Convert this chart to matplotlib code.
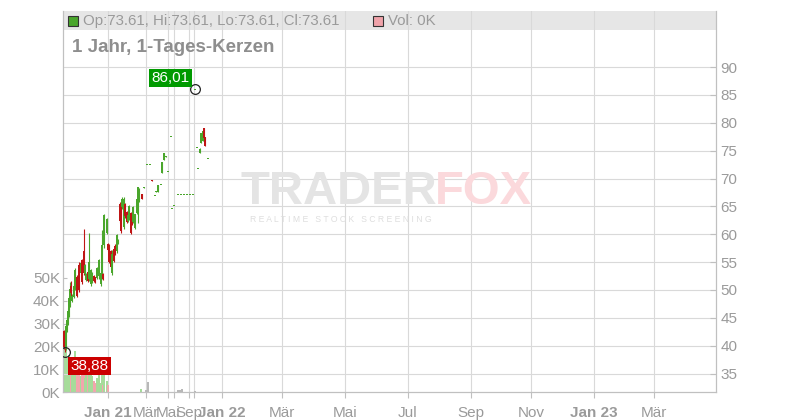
import matplotlib
matplotlib.use('Agg')
import matplotlib.pyplot as plt
from matplotlib.patches import Rectangle

plt.rcParams['font.family'] = ['Liberation Sans', 'DejaVu Sans']

# Ordinal slot of each daily candle (gaps = days without trades)
slots = [64, 65, 66, 67, 68, 69, 70, 71, 72, 74, 75, 77, 79, 81, 82, 84, 85, 86, 88, 89,
         91, 92, 94, 95, 97, 99, 101, 102, 103, 104, 107, 108, 109, 111, 112, 114, 115, 117, 118, 120,
         121, 122, 124, 125, 127, 128, 129, 131, 132, 133, 135, 137, 138, 139, 142, 144, 147, 150, 152, 155,
         156, 158, 161, 162, 164, 166, 168, 171, 172, 174, 178, 181, 184, 187, 190, 193, 195, 197, 198, 200,
         201, 203, 204, 205, 208]
opens = [42.7, 40.2, 39.4, 43.0, 44.2, 45.6, 47.6, 50.8, 48.0, 48.8, 50.2, 52.3, 54.5, 53.0, 55.4, 57.0, 52.8, 51.8, 53.3, 52.0,
         51.0, 51.5, 52.5, 52.3, 52.2, 52.5, 51.0, 52.3, 52.8, 58.0, 60.2, 58.3, 58.0, 57.0, 53.0, 57.4, 57.9, 57.0, 58.5, 65.5,
         64.5, 64.8, 61.3, 65.4, 64.0, 62.4, 62.8, 63.8, 63.0, 62.2, 61.2, 63.8, 64.0, 66.0, 67.3, 68.3, 72.5, 72.5, 69.8, 67.0,
         67.6, 67.5, 69.0, 71.0, 73.4, 73.8, 71.3, 77.6, 64.6, 65.2, 67.2, 67.2, 67.2, 67.2, 67.2, 67.2, 86.01, 75.6, 71.8, 74.5,
         76.3, 76.8, 79.1, 77.4, 73.61]
highs = [42.9, 41.0, 44.0, 45.2, 46.8, 49.0, 51.5, 51.7, 49.2, 51.0, 54.0, 52.6, 55.0, 55.0, 55.6, 61.0, 54.7, 53.0, 53.5, 60.3,
         53.8, 53.2, 52.6, 52.4, 54.2, 55.6, 53.2, 60.7, 53.0, 63.7, 63.0, 58.4, 58.2, 57.1, 57.1, 57.5, 58.2, 60.0, 59.2, 65.7,
         65.0, 66.6, 66.6, 65.6, 64.1, 63.8, 65.2, 64.0, 63.2, 65.0, 63.7, 66.4, 68.5, 68.3, 67.3, 68.5, 72.5, 72.5, 69.8, 67.0,
         67.8, 68.8, 69.0, 72.9, 74.5, 74.0, 71.3, 77.6, 64.6, 65.2, 67.2, 67.2, 67.2, 67.2, 67.2, 67.2, 86.01, 75.6, 71.8, 75.5,
         78.2, 78.6, 79.1, 77.4, 73.61]
lows = [39.5, 38.88, 39.2, 42.5, 43.8, 45.2, 47.0, 49.0, 47.8, 48.5, 50.0, 48.7, 49.6, 52.8, 51.0, 52.6, 52.6, 51.7, 51.4, 51.7,
        50.8, 51.2, 51.4, 51.3, 52.0, 52.0, 50.8, 52.0, 51.8, 57.6, 60.0, 57.0, 54.8, 54.0, 52.6, 55.0, 56.2, 56.7, 58.3, 62.0,
        60.3, 64.6, 61.0, 63.0, 62.0, 62.2, 62.6, 60.0, 61.7, 62.0, 61.0, 63.7, 62.0, 65.8, 66.4, 68.3, 72.5, 72.5, 69.6, 67.0,
        67.6, 67.5, 69.0, 71.0, 73.4, 73.8, 71.3, 77.6, 64.6, 65.2, 67.2, 67.2, 67.2, 67.2, 67.2, 67.2, 86.01, 75.6, 71.8, 74.5,
        76.3, 76.8, 77.2, 75.8, 73.61]
closes = [39.8, 39.4, 43.5, 44.6, 46.2, 48.5, 50.2, 49.5, 49.0, 50.8, 53.5, 49.0, 50.0, 54.8, 51.5, 53.0, 54.5, 52.9, 51.6, 55.0,
          53.6, 53.0, 51.6, 51.5, 54.0, 55.4, 53.0, 58.0, 51.9, 63.5, 62.8, 57.1, 55.0, 54.2, 56.5, 55.2, 56.3, 59.8, 59.0, 62.3,
          60.5, 66.4, 66.4, 63.2, 62.2, 63.5, 65.0, 60.3, 61.9, 64.8, 63.6, 66.3, 68.4, 68.0, 66.4, 68.5, 72.5, 72.5, 69.6, 67.0,
          67.8, 68.8, 69.0, 72.9, 74.5, 74.0, 71.3, 77.6, 64.6, 65.2, 67.2, 67.2, 67.2, 67.2, 67.2, 67.2, 86.01, 75.6, 71.8, 75.3,
          78.2, 78.6, 77.2, 75.8, 73.61]

# Volume (thousands)
vol_slots = [63, 64, 65, 66, 67, 68, 69, 70, 71, 72, 74, 75, 77, 79, 81, 82, 84, 85, 86, 88,
             89, 91, 92, 94, 95, 97, 99, 101, 102, 103, 104, 107, 108, 141, 146, 148, 178, 180, 182, 195]
vol_k = [2, 4, 20, 21, 15, 12, 16, 14, 8, 10, 12, 18, 9, 11, 7, 10, 14, 6, 8, 9,
         13, 9, 7, 5, 4, 6, 9, 4, 10, 3, 8, 5, 3, 1.5, 1, 4.5, 1, 0.7, 1.2, 0.6]
vol_kind = ['d', 'd', 'u', 'u', 'u', 'u', 'u', 'u', 'd', 'u', 'u', 'u', 'd', 'd', 'u', 'd', 'd', 'u', 'u', 'd',
            'u', 'u', 'u', 'd', 'd', 'u', 'u', 'u', 'u', 'd', 'u', 'u', 'd', 'u', 'n', 'n', 'n', 'n', 'n', 'n']

# x axis (ordinal slots), tick labels
tick_slots = [108, 146, 168, 174, 189, 194, 222, 282, 345, 408, 471, 531, 594, 654]
tick_labels = ['Jan 21', 'Mär', 'Mai', '', 'Sep', '', 'Jan 22', 'Mär', 'Mai', 'Jul', 'Sep', 'Nov', 'Jan 23', 'Mär']
price_ticks = [35, 40, 45, 50, 55, 60, 65, 70, 75, 80, 85, 90]
vol_ticks = [0, 10, 20, 30, 40, 50]

GREEN = '#4aa62c'
RED = '#bf1515'
GRID = '#d9d9d9'
TXT = '#9a9a9a'

fig = plt.figure(figsize=(8, 4.2), dpi=100)
ax = fig.add_axes([63 / 800, 28 / 420, 653 / 800, 381 / 420])
axp = ax.twinx()

# volume pane (left axis)
vcol = {'u': '#a6dc9a', 'd': '#f2a6ad', 'n': '#b8b8b8'}
ax.bar(vol_slots, vol_k, width=1.1, color=[vcol[k] for k in vol_kind], zorder=2)
ax.set_ylim(0, 167)
ax.set_yticks(vol_ticks)
ax.set_yticklabels([f'{v}K' for v in vol_ticks])
ax.set_xlim(63, 716)
ax.set_xticks(tick_slots)
ax.set_xticklabels(tick_labels)
for lab in ax.get_xticklabels():
    if lab.get_text().startswith('Jan'):
        lab.set_fontweight('bold')
ax.set_axisbelow(True)
ax.grid(axis='x', color=GRID, lw=0.8)
ax.tick_params(axis='x', colors='#c0c0c0', labelcolor=TXT, labelsize=11, length=4, pad=6)
ax.tick_params(axis='y', colors='#c0c0c0', labelcolor=TXT, labelsize=11, direction='in', length=3, pad=2)

# header band
ax.add_patch(Rectangle((0, (392 - 30) / 381), 1, 19 / 381, transform=ax.transAxes,
                       facecolor='#e6e6e6', edgecolor='none', zorder=0.1))

# price pane (right axis)
axp.set_ylim(31.7, 100.05)
axp.set_yticks(price_ticks)
axp.grid(axis='y', color=GRID, lw=0.8)
axp.tick_params(axis='y', colors='#c0c0c0', labelcolor=TXT, labelsize=11, direction='in', length=4, pad=3)

colors = [GREEN if c >= o else RED for o, c in zip(opens, closes)]
axp.vlines(slots, lows, highs, colors=colors, lw=0.8, zorder=3)
bodies = [max(abs(c - o), 0.2) for o, c in zip(opens, closes)]
bottoms = [min(o, c) if abs(c - o) >= 0.2 else o - 0.1 for o, c in zip(opens, closes)]
axp.bar(slots, bodies, bottom=bottoms, width=1.6, color=colors, zorder=3)

for a in (ax, axp):
    a.spines['top'].set_visible(False)
    for s in ('left', 'right', 'bottom'):
        a.spines[s].set_color('#c0c0c0')

# max / min markers
i_hi = highs.index(max(highs))
i_lo = lows.index(min(lows))
axp.plot(slots[i_hi], highs[i_hi], 'o', ms=7, mfc='none', mec='#222222', mew=0.9, zorder=5)
axp.plot(slots[i_lo], lows[i_lo], 'o', ms=7, mfc='none', mec='#222222', mew=0.9, zorder=5)
axp.annotate(f'{highs[i_hi]:.2f}'.replace('.', ','), (slots[i_hi], highs[i_hi]),
             xytext=(-4, 3), textcoords='offset points', ha='right', va='bottom',
             color='white', fontsize=11,
             bbox=dict(boxstyle='square,pad=0.15', fc='#009a00', ec='none'), zorder=6)
axp.annotate(f'{lows[i_lo]:.2f}'.replace('.', ','), (slots[i_lo], lows[i_lo]),
             xytext=(4, -5), textcoords='offset points', ha='left', va='top',
             color='white', fontsize=11,
             bbox=dict(boxstyle='square,pad=0.15', fc='#cc0000', ec='none'), zorder=6)

# header texts
last = len(slots) - 1
fig.patches.append(Rectangle((68 / 800, 1 - 26 / 420), 10 / 800, 10 / 420, transform=fig.transFigure,
                             facecolor='#4aa62c', edgecolor='#333333', lw=0.8, figure=fig))
fig.text(83 / 800, 1 - 21 / 420,
         f'Op:{opens[last]:.2f}, Hi:{highs[last]:.2f}, Lo:{lows[last]:.2f}, Cl:{closes[last]:.2f}',
         color=TXT, fontsize=10.8, va='center', ha='left')
fig.patches.append(Rectangle((373 / 800, 1 - 26 / 420), 10 / 800, 10 / 420, transform=fig.transFigure,
                             facecolor='#f0a3aa', edgecolor='#333333', lw=0.8, figure=fig))
fig.text(388 / 800, 1 - 21 / 420, 'Vol: 0K', color=TXT, fontsize=10.8, va='center', ha='left')
fig.text(72 / 800, 1 - 47 / 420, '1 Jahr, 1-Tages-Kerzen', color='#8e8e8e', fontsize=13.5,
         fontweight='bold', va='center', ha='left')

# watermark
fig.text(437 / 800, 1 - 192 / 420, 'TRADER', color='#e4e4e4', fontsize=34, fontweight='bold',
         ha='right', va='center', zorder=0.5)
fig.text(435 / 800, 1 - 192 / 420, 'FOX', color='#fbd9dc', fontsize=34, fontweight='bold',
         ha='left', va='center', zorder=0.5)
fig.text(250 / 800, 1 - 219 / 420, 'R E A L T I M E   S T O C K   S C R E E N I N G', color='#dedede',
         fontsize=6.2, ha='left', va='center', zorder=0.5)

fig.savefig('out.png', dpi=100)
